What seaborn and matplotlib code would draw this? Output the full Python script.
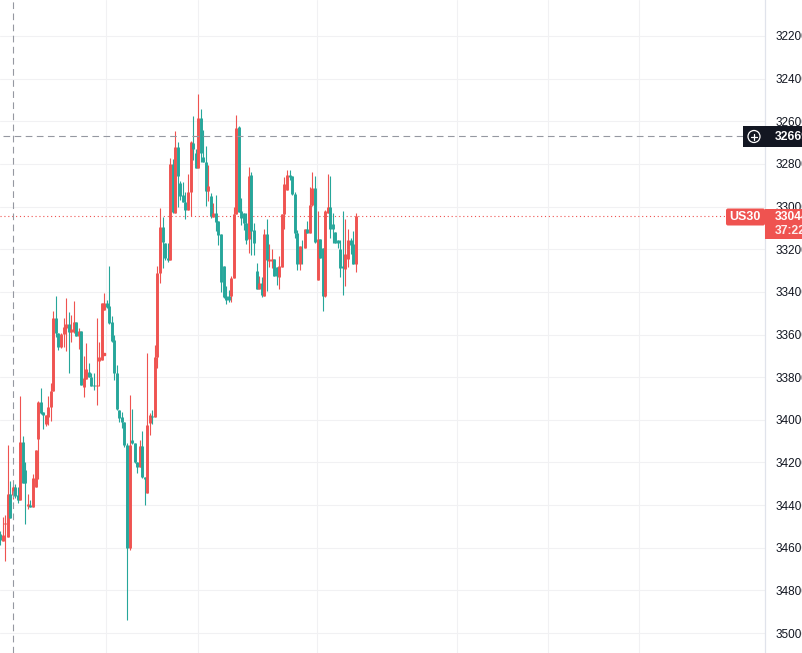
# US30 candlestick chart, inverted price scale
import matplotlib.pyplot as plt
import numpy as np
import pandas as pd
import seaborn as sns
from matplotlib.patches import Circle, FancyBboxPatch, Rectangle

opens = [34535, 34567, 34490, 34548, 34348, 34353, 34315, 34353, 34376, 34106,
         34235, 34404, 34399, 34407, 34314, 34088, 33916, 33962, 34021, 33985,
         33941, 33865, 33524, 33594, 33660, 33599, 33571, 33551, 33586, 33586,
         33543, 33605, 33583, 33844, 33810, 33776, 33798, 33837, 33841, 33723,
         33719, 33485, 33450, 33466, 33543, 33626, 33782, 33954, 33985, 34010,
         34118, 34603, 34095, 34111, 34197, 34220, 34123, 34270, 34345, 34014,
         33982, 33985, 33707, 33313, 33098, 33170, 33243, 33251, 32801, 33029,
         32722, 32888, 32946, 32977, 33016, 32933, 32704, 32751, 32818, 32583,
         32766, 32790, 32927, 32951, 33049, 33032, 33068, 33129, 33279, 33420,
         33418, 33418, 33337, 33037, 32629, 33021, 33032, 33076, 33152, 32852,
         33110, 33303, 33387, 33360, 33418, 33129, 33254, 33254, 33246, 33285,
         33331, 33282, 33037, 32923, 32852, 32857, 32941, 33126, 33267, 33192,
         33193, 33107, 33126, 32993, 32915, 33345, 33153, 33196, 33420, 33029,
         33001, 33082, 33118, 33157, 33199, 33280, 33293, 33248, 33157, 33176,
         33270]
closes = [34564, 34540, 34484, 34348, 34460, 34315, 34356, 34376, 34106, 34295,
          34295, 34395, 34407, 34273, 34142, 33916, 33969, 33979, 33979, 33941,
          33865, 33524, 33594, 33657, 33599, 33566, 33551, 33586, 33576, 33543,
          33605, 33583, 33837, 33805, 33763, 33801, 33840, 33841, 33837, 33704,
          33450, 33450, 33469, 33547, 33629, 33782, 33951, 33993, 34010, 34118,
          34600, 34118, 34107, 34197, 34220, 34123, 34270, 34276, 34025, 33978,
          33985, 33707, 33313, 33098, 33165, 33243, 33251, 32801, 33024, 32719,
          32855, 32949, 32977, 33016, 32933, 32696, 32730, 32818, 32583, 32751,
          32790, 32926, 32904, 33043, 33032, 33071, 33134, 33356, 33423, 33438,
          33438, 33337, 33037, 32633, 33024, 33055, 33076, 33157, 32855, 33113,
          33173, 33387, 33360, 33415, 33129, 33251, 33246, 33246, 33325, 33325,
          33279, 33037, 32895, 32852, 32860, 32943, 33126, 33270, 33185, 33196,
          33107, 33126, 32993, 32915, 33165, 33153, 33239, 33420, 33020, 33001,
          33106, 33106, 33173, 33173, 33287, 33287, 33223, 33157, 33181, 33270,
          33045]
highs = [34587, 34568, 34661, 34548, 34460, 34371, 34368, 34392, 34376, 34295,
         34489, 34418, 34410, 34407, 34314, 34277, 33973, 34041, 34029, 34024,
         34004, 33865, 33613, 33672, 33665, 33657, 33676, 33779, 33633, 33594,
         33605, 33668, 33837, 33891, 33810, 33801, 33840, 33860, 33930, 33841,
         33719, 33485, 33477, 33552, 33633, 33813, 33954, 34009, 34040, 34129,
         34939, 34611, 34114, 34201, 34248, 34220, 34275, 34400, 34345, 34071,
         34021, 33985, 33759, 33360, 33290, 33251, 33259, 33251, 33032, 33029,
         33001, 32969, 32980, 33059, 33016, 33043, 32782, 32818, 32818, 32793,
         32793, 32996, 32974, 33055, 33049, 33113, 33180, 33399, 33431, 33459,
         33449, 33449, 33337, 33037, 33024, 33087, 33110, 33177, 33220, 33227,
         33228, 33387, 33387, 33426, 33418, 33395, 33285, 33290, 33325, 33368,
         33387, 33282, 33106, 32923, 32876, 32946, 33149, 33298, 33298, 33267,
         33196, 33126, 33126, 32996, 33173, 33345, 33239, 33490, 33423, 33032,
         33149, 33173, 33173, 33196, 33329, 33415, 33371, 33282, 33224, 33270,
         33306]
lows = [34520, 34457, 34448, 34118, 34287, 34306, 34301, 34317, 33888, 34076,
        34196, 34348, 34376, 34256, 34142, 33912, 33851, 33962, 33979, 33888,
        33827, 33490, 33419, 33594, 33594, 33524, 33430, 33496, 33508, 33443,
        33540, 33571, 33583, 33701, 33641, 33732, 33782, 33782, 33521, 33633,
        33450, 33407, 33438, 33279, 33513, 33602, 33743, 33954, 33962, 34010,
        34110, 33883, 33951, 34111, 34197, 34095, 34053, 34270, 33688, 33967,
        33954, 33649, 33279, 33008, 33048, 33170, 33173, 32771, 32777, 32646,
        32699, 32880, 32887, 32930, 32849, 32693, 32575, 32730, 32472, 32543,
        32641, 32715, 32805, 32935, 32985, 32946, 33068, 33129, 33279, 33373,
        33392, 33324, 33001, 32571, 32621, 32962, 33029, 33029, 32816, 32840,
        33079, 33264, 33326, 33329, 33103, 33060, 33176, 33201, 33246, 33285,
        33232, 33037, 32860, 32829, 32829, 32857, 32931, 33110, 33185, 33157,
        33107, 33068, 32907, 32840, 32857, 33021, 33153, 33196, 33017, 32845,
        32857, 33032, 33118, 33157, 33157, 33021, 33056, 33103, 33149, 33115,
        33032]

price_ticks = [32200, 32400, 32600, 32800, 33000, 33200, 33400, 33600, 33800,
               34000, 34200, 34400, 34600, 34800, 35000]
time_ticks = [41.9, 78, 124.9, 180, 215.7, 251.6]
last_price = 33044
cross_price = 32669
cross_bar = 5.1
countdown = "37:22"
symbol = "US30"
dot_bar = 41
dot_price = 33691

UP = "#26a69a"
DOWN = "#ef5350"
GRID = "#f1f1f3"
AXIS = "#e0e3eb"
CROSS = "#9598a1"
DARK = "#131722"

sns.set_theme(style="white")
plt.rcParams["font.family"] = ["Liberation Sans", "DejaVu Sans"]

bars = pd.DataFrame({"open": opens, "close": closes, "high": highs, "low": lows})
bars["bar"] = np.arange(len(bars))
bars["side"] = np.where(bars["close"] >= bars["open"], "up", "down")

wicks = bars.melt(id_vars=["bar", "side"], value_vars=["high", "low"], value_name="price")
bodies = bars.melt(id_vars=["bar", "side"], value_vars=["open", "close"], value_name="price")

fig = plt.figure(figsize=(8.02, 6.53), dpi=100)
ax = fig.add_axes([0, 0, 765 / 802, 1])

for part, width in ((wicks, 0.8), (bodies, 2.1)):
    sns.lineplot(
        data=part,
        x="bar",
        y="price",
        hue="side",
        units="bar",
        estimator=None,
        palette={"up": UP, "down": DOWN},
        linewidth=width,
        solid_capstyle="butt",
        legend=False,
        ax=ax,
    )

# later candles sit on top of earlier ones
for line in ax.lines:
    line.set_zorder(3 + line.get_xdata()[0] / 1000)

ax.set_xlim(0, 765 / 2.54)
ax.set_ylim(32200 + 617 * 4.69, 32200 - 36 * 4.69)
ax.set_xlabel("")
ax.set_ylabel("")
ax.set_xticks(time_ticks)
ax.set_yticks(price_ticks)
ax.yaxis.tick_right()
ax.tick_params(axis="x", length=0, labelbottom=False)
ax.tick_params(axis="y", length=0, pad=7.4, labelsize=8.5, labelcolor=DARK)
ax.grid(True, color=GRID, linewidth=0.75)
ax.set_axisbelow(True)
for side in ("top", "left", "bottom"):
    ax.spines[side].set_visible(False)
ax.spines["right"].set_color(AXIS)
ax.spines["right"].set_linewidth(0.9)

ax.axhline(last_price, color=DOWN, linewidth=0.8, dashes=(1, 2.5), zorder=2)
ax.axhline(cross_price, xmin=3 / 765, color=CROSS, linewidth=0.8, dashes=(6, 4), zorder=5)
ax.axvline(cross_bar, color=CROSS, linewidth=0.8, dashes=(6, 4), zorder=5)
ax.plot([dot_bar], [dot_price], "s", color=DOWN, markersize=1.5, zorder=4)

# overlay in pixel coordinates for the price labels
over = fig.add_axes([0, 0, 1, 1])
over.set_xlim(0, 802)
over.set_ylim(653, 0)
over.axis("off")
over.patch.set_alpha(0)

over.add_patch(Rectangle((743, 126), 21.5, 21, color=DARK, linewidth=0))
over.add_patch(Rectangle((765, 126), 37, 21, color=DARK, linewidth=0))
over.add_patch(Circle((754, 136.5), 6, fill=False, edgecolor="white", linewidth=0.9))
over.plot([751, 757], [136.5, 136.5], color="white", linewidth=0.9)
over.plot([754, 754], [133.5, 139.5], color="white", linewidth=0.9)
over.text(775, 136.5, str(cross_price), color="white", fontsize=8.7, fontweight="bold",
          ha="left", va="center")

over.add_patch(Rectangle((765, 208.5), 37, 30.5, color=DOWN, linewidth=0))
over.add_patch(FancyBboxPatch((726, 208.5), 39, 17, boxstyle="round,pad=0,rounding_size=2",
                              color=DOWN, linewidth=0))
over.text(745, 217, symbol, color="white", fontsize=9, fontweight="bold",
          ha="center", va="center")
over.text(775, 216.5, str(last_price), color="white", fontsize=8.7, fontweight="bold",
          ha="left", va="center")
over.text(775, 231, countdown, color="white", fontsize=8.7, fontweight="bold",
          ha="left", va="center", alpha=0.9)

fig.savefig("out.png", dpi=100)
